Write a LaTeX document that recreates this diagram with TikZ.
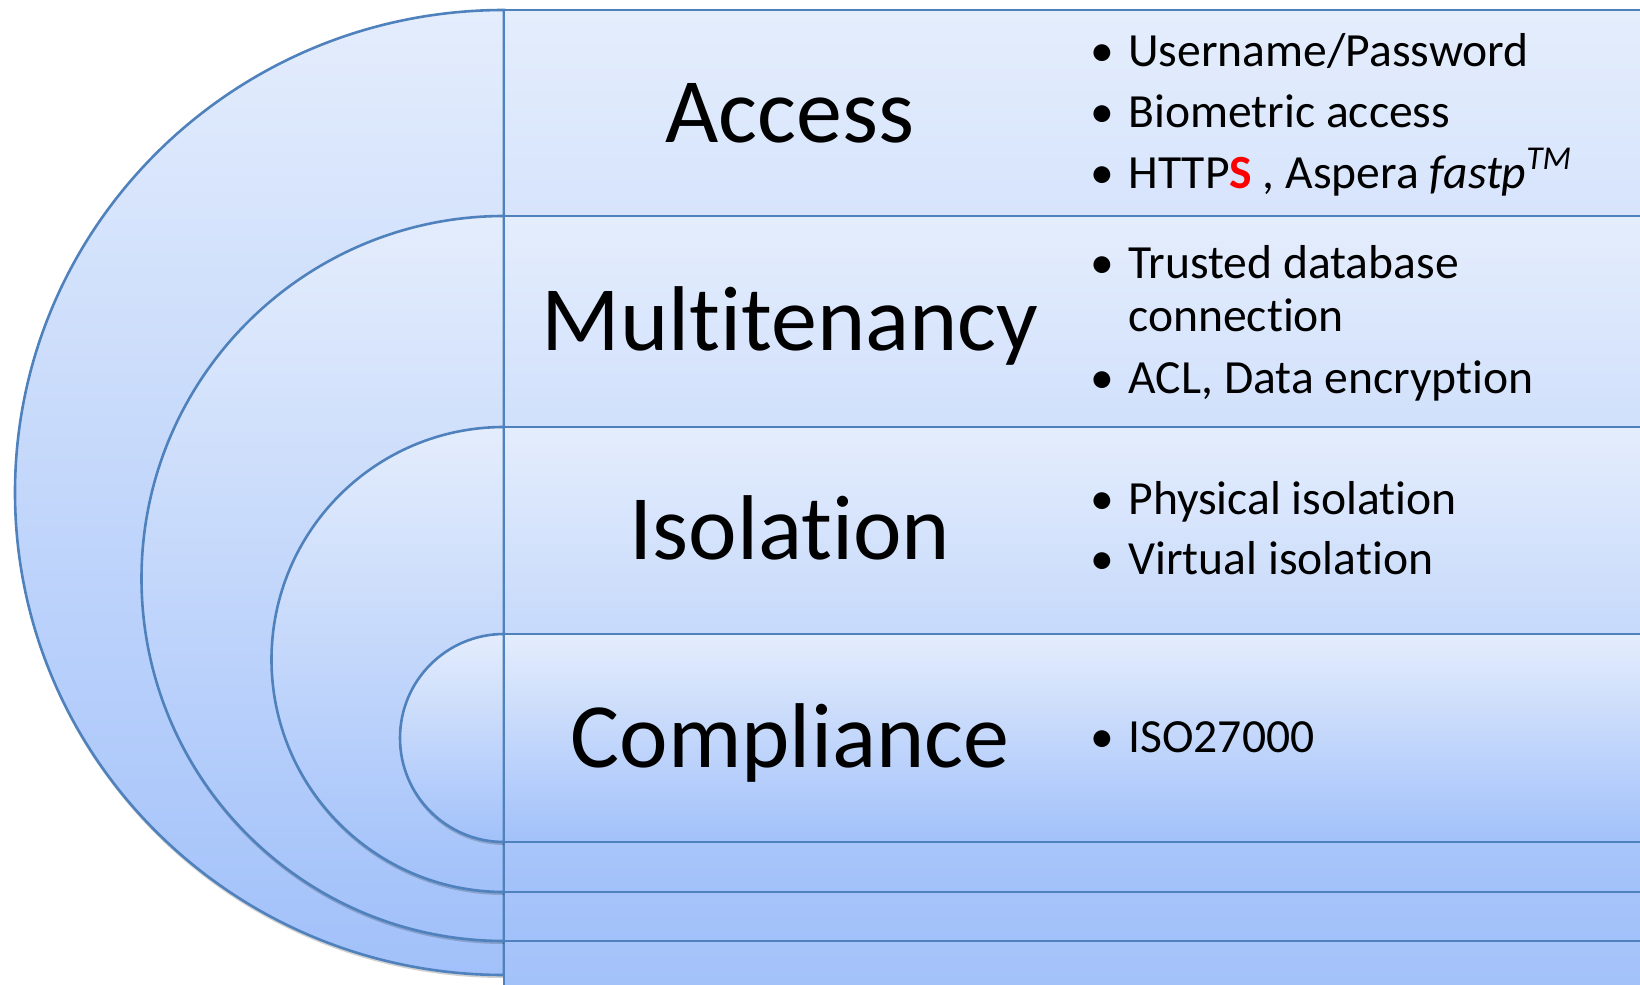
\documentclass[tikz,border=0pt]{standalone}
\usepackage{fontspec}
\setmainfont{Carlito}[Ligatures={NoCommon,NoContextual},Contextuals={NoAlternate}]
\newcommand\tiz{t\kern0pt i}
\definecolor{edgeblue}{HTML}{4F81BD}
\definecolor{topc}{HTML}{E4EDFC}
\definecolor{botc}{HTML}{A2C1FA}
\definecolor{hred}{HTML}{FF0000}
\tikzset{
  band/.style={draw=edgeblue, line width=1.3pt, top color=topc, bottom color=botc},
  bandshadow/.style={fill=black, opacity=0.18},
  title/.style={anchor=base, font=\fontsize{46}{50}\selectfont, inner sep=0pt},
  item/.style={anchor=base west, font=\fontsize{23.8}{26}\selectfont, inner sep=0pt},
  dotmark/.style={anchor=base, font=\fontsize{23.8}{26}\selectfont, inner sep=0pt},
}
\begin{document}
\begin{tikzpicture}[x=0.5pt,y=-0.5pt]
\useasboundingbox (0,0) rectangle (1640,985);
\clip (0,0) rectangle (1640,985);
% layer 1 (outer)
\fill[bandshadow] (504,13) arc[start angle=270,end angle=90,x radius=489,y radius=482.5] -- cycle;
\path[band] (504,10) arc[start angle=270,end angle=90,x radius=489,y radius=482.5] -- cycle;
\path[band] (504,10) rectangle (1670,1010);
% layer 2
\fill[bandshadow] (504,219) arc[start angle=270,end angle=90,radius=362.5] -- cycle;
\path[band] (504,216) arc[start angle=270,end angle=90,radius=362.5] -- cycle;
\path[band] (504,216) rectangle (1670,941);
% layer 3
\fill[bandshadow] (504,430) arc[start angle=270,end angle=90,radius=232.5] -- cycle;
\path[band] (504,427) arc[start angle=270,end angle=90,radius=232.5] -- cycle;
\path[band] (504,427) rectangle (1670,892);
% layer 4
\fill[bandshadow] (504,637) arc[start angle=270,end angle=90,radius=104] -- cycle;
\path[band] (504,634) arc[start angle=270,end angle=90,radius=104] -- cycle;
\path[band] (504,634) rectangle (1670,842);

% titles
\node[title] (tAccess) at (790,142.5) {Access};
\node[title] (tMulti) at (790,350.5) {Mul\tiz tenancy};
\node[title] (tIso) at (790,559.5) {Isola\tiz on};
\node[title] (tComp) at (790,767.5) {Compliance};

% bullets
\node[dotmark] (b1) at (1102,66) {\textbullet};
\node[item] (u1) at (1128,66) {Username/Password};
\node[dotmark] (b2) at (1102,127) {\textbullet};
\node[item] (u2) at (1128,127) {Biometric access};
\node[dotmark] (b3) at (1102,188) {\textbullet};
\node[item] (u3) at (1128,188) {HTTP{\color{hred}\bfseries S} , Aspera \textit{fastp}\textsuperscript{\textit{TM}}};

\node[dotmark] (b4) at (1102,278) {\textbullet};
\node[item] (m1) at (1128,278) {Trusted database};
\node[item] (m1b) at (1128,331) {connec\tiz on};
\node[dotmark] (b5) at (1102,393) {\textbullet};
\node[item] (m2) at (1128,393) {ACL, Data encryp\tiz on};

\node[dotmark] (b6) at (1102,514) {\textbullet};
\node[item] (i1) at (1128,514) {Physical isola\tiz on};
\node[dotmark] (b7) at (1102,574) {\textbullet};
\node[item] (i2) at (1128,574) {Virtual isola\tiz on};

\node[dotmark] (b8) at (1102,752) {\textbullet};
\node[item] (c1) at (1128,752) {ISO27000};
\end{tikzpicture}
\end{document}
